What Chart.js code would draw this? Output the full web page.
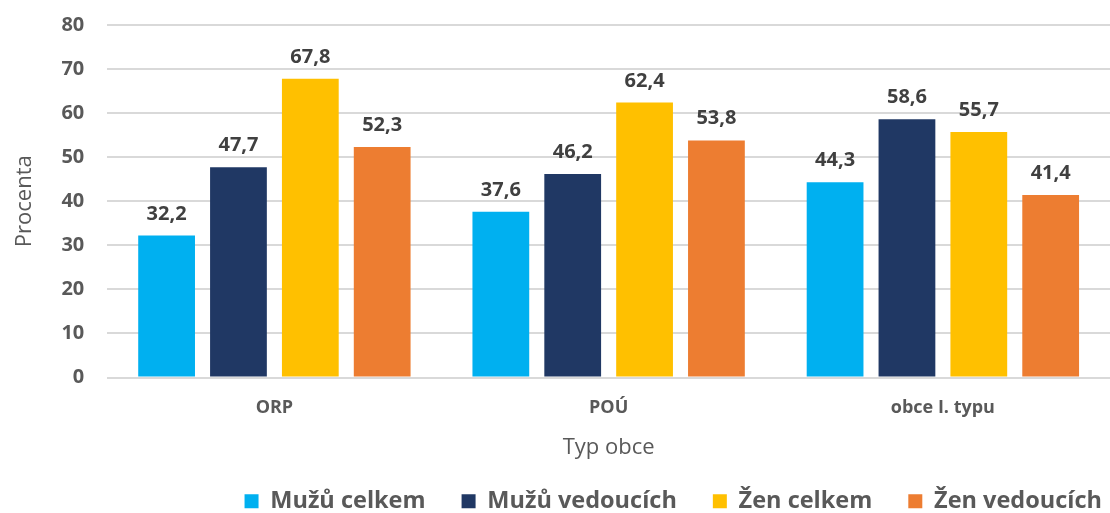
<!DOCTYPE html>
<html>
<head>
<meta charset="utf-8">
<script src="https://cdn.jsdelivr.net/npm/chart.js@4"></script>
<style>
  html, body { margin: 0; padding: 0; background: #ffffff; }
  #wrap { width: 1110px; height: 513px; }
</style>
</head>
<body>
<div id="wrap"><canvas id="chart" width="1110" height="513"></canvas></div>
<script>
const categories = ["ORP", "POÚ", "obce I. typu"];
const seriesNames = ["Mužů celkem", "Mužů vedoucích", "Žen celkem", "Žen vedoucích"];
const muzuCelkem = [32.2, 37.6, 44.3];
const muzuVedoucich = [47.7, 46.2, 58.6];
const zenCelkem = [67.8, 62.4, 55.7];
const zenVedoucich = [52.3, 53.8, 41.4];
const colors = ["#00b0f0", "#203864", "#ffc000", "#ed7d31"];

const fontFamily = "'Open Sans', 'Noto Sans', sans-serif";

const barLabels = {
  id: "barLabels",
  afterDatasetsDraw(chart) {
    const ctx = chart.ctx;
    ctx.save();
    ctx.font = `bold 20px ${fontFamily}`;
    ctx.fillStyle = "#404040";
    ctx.textAlign = "center";
    ctx.textBaseline = "alphabetic";
    chart.data.datasets.forEach((dataset, i) => {
      const meta = chart.getDatasetMeta(i);
      meta.data.forEach((bar, j) => {
        const text = dataset.data[j].toFixed(1).replace(".", ",");
        ctx.fillText(text, bar.x, bar.y - 16);
      });
    });
    ctx.restore();
  },
};

// legenda je v originále víc vpravo
const legendShift = {
  id: "legendShift",
  afterLayout(chart) {
    chart.legend.left += 28;
    chart.legend.right += 28;
  },
};

const seriesValues = [muzuCelkem, muzuVedoucich, zenCelkem, zenVedoucich];

new Chart(document.getElementById("chart"), {
  type: "bar",
  data: {
    labels: categories,
    datasets: seriesNames.map((name, i) => ({
      label: name,
      data: seriesValues[i],
      backgroundColor: colors[i],
      barPercentage: 0.79,
      categoryPercentage: 0.86,
    })),
  },
  options: {
    responsive: false,
    animation: false,
    layout: { padding: { top: 0, right: 0, left: 12, bottom: -10 } },
    plugins: {
      legend: {
        position: "bottom",
        align: "end",
        labels: {
          boxWidth: 14,
          boxHeight: 14,
          padding: 36,
          color: "#595959",
          font: { family: fontFamily, size: 23.5, weight: "bold" },
        },
      },
      tooltip: { enabled: false },
    },
    scales: {
      x: {
        grid: { display: false },
        border: { display: false },
        ticks: {
          color: "#595959",
          font: { family: fontFamily, size: 18, weight: "bold" },
          padding: 12,
        },
        title: {
          display: true,
          text: "Typ obce",
          color: "#595959",
          font: { family: fontFamily, size: 22 },
          padding: { top: 3, bottom: -7 },
        },
      },
      y: {
        min: 0,
        max: 80,
        ticks: {
          stepSize: 10,
          color: "#595959",
          font: { family: fontFamily, size: 20, weight: "bold" },
          padding: 13,
        },
        grid: {
          color: "#d9d9d9",
          lineWidth: 2,
          drawTicks: true,
          tickLength: 10,
          tickColor: "rgba(0,0,0,0)",
        },
        border: { display: false },
        title: {
          display: true,
          text: "Procenta",
          color: "#595959",
          font: { family: fontFamily, size: 22 },
          padding: { top: 0, bottom: 10 },
        },
      },
    },
  },
  plugins: [barLabels, legendShift],
});
</script>
</body>
</html>
